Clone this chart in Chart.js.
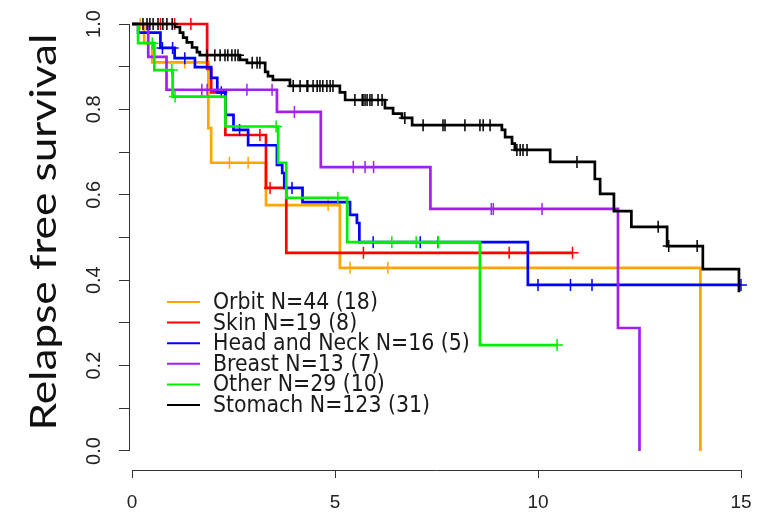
<!DOCTYPE html>
<html><head><meta charset="utf-8">
<script src="https://cdn.jsdelivr.net/npm/chart.js@4.4.1/dist/chart.umd.min.js"></script>
<style>html,body{margin:0;padding:0;background:#fff;}canvas{display:block;}</style>
</head><body>
<canvas id="c" width="768" height="518"></canvas>
<script>
// ---- data ----
const groupNames = ['Orbit', 'Skin', 'Head and Neck', 'Breast', 'Other', 'Stomach'];
const legendLabels = ['Orbit N=44 (18)', 'Skin N=19 (8)', 'Head and Neck N=16 (5)', 'Breast N=13 (7)', 'Other N=29 (10)', 'Stomach N=123 (31)'];
const groupColors = ['#FFA500', '#FF0000', '#0000FF', '#A020F0', '#00EE00', '#000000'];

const xTickValues = [0, 5, 10, 15];
const xTickLabels = ['0', '5', '10', '15'];
const yTickValues = [0, 0.1, 0.2, 0.3, 0.4, 0.5, 0.6, 0.7, 0.8, 0.9, 1.0];
const yTickLabels = ['0.0', '', '0.2', '', '0.4', '', '0.6', '', '0.8', '', '1.0'];
const yTitle = 'Relapse free survival';

const orbitEventTimes = [0.3, 0.5, 1.88, 1.95, 3.3, 5.12, 14.0];
const orbitEventSurv = [0.955, 0.91, 0.756, 0.675, 0.576, 0.429, 0];
const orbitCensorTimes = [0.2, 1.3, 2.4, 2.86, 4.83, 5.37, 6.3];

const skinEventTimes = [1.85, 1.95, 2.3, 3.3, 3.8];
const skinEventSurv = [0.895, 0.84, 0.74, 0.616, 0.464];
const skinCensorTimes = [0.7, 1.05, 1.45, 3.15, 3.4, 5.7, 9.29, 10.85];

const headEventTimes = [0.15, 0.7, 1.05, 1.55, 1.95, 2.1, 2.3, 2.5, 2.86, 3.57, 3.7, 3.75, 4.2, 5.37, 5.54, 5.6, 9.75];
const headEventSurv = [0.98, 0.944, 0.92, 0.899, 0.874, 0.84, 0.787, 0.752, 0.716, 0.67, 0.651, 0.616, 0.583, 0.553, 0.534, 0.489, 0.389];
const headCensorTimes = [0.75, 1.0, 1.3, 2.2, 2.65, 3.94, 5.94, 7.1, 7.54, 10.0, 10.8, 11.33, 15.0];

const breastEventTimes = [0.4, 0.85, 3.57, 4.65, 7.35, 11.97, 12.5];
const breastEventSurv = [0.923, 0.846, 0.794, 0.665, 0.567, 0.288, 0];
const breastCensorTimes = [1.72, 1.85, 2.83, 3.45, 4.0, 5.45, 5.74, 5.95, 8.85, 8.9, 10.1];

const otherEventTimes = [0.15, 0.55, 1.0, 2.3, 3.6, 3.8, 5.3, 8.57];
const otherEventSurv = [0.955, 0.892, 0.83, 0.76, 0.675, 0.593, 0.489, 0.248];
const otherCensorTimes = [0.5, 0.98, 1.06, 3.55, 5.07, 6.4, 7.0, 7.55, 10.47];

const stomachEventTimes = [1.06, 1.18, 1.26, 1.35, 1.48, 1.6, 1.67, 2.66, 2.83, 3.28, 3.35, 3.47, 3.89, 5.12, 5.25, 6.23, 6.43, 6.65, 6.9, 9.11, 9.19, 9.36, 9.43, 10.3, 11.4, 11.53, 11.87, 12.3, 13.18, 14.06, 14.95];
const stomachEventSurv = [0.993, 0.98, 0.968, 0.957, 0.945, 0.934, 0.927, 0.916, 0.909, 0.888, 0.878, 0.869, 0.855, 0.84, 0.822, 0.803, 0.79, 0.78, 0.763, 0.752, 0.735, 0.72, 0.705, 0.677, 0.637, 0.602, 0.562, 0.525, 0.48, 0.426, 0.372];
const stomachCensorTimes = [0.27, 0.37, 0.44, 0.52, 0.64, 0.76, 0.86, 0.99, 1.85, 2.04, 2.17, 2.29, 2.36, 2.46, 2.54, 2.61, 2.96, 3.08, 3.15, 3.97, 4.14, 4.31, 4.33, 4.46, 4.56, 4.63, 4.7, 4.8, 4.88, 4.95, 5.49, 5.67, 5.69, 5.74, 5.79, 5.86, 5.91, 6.06, 6.16, 6.72, 7.17, 7.66, 7.71, 8.2, 8.57, 8.65, 8.82, 9.48, 9.56, 9.63, 9.73, 10.96, 12.96, 13.22, 13.92];

const groups = [
  [orbitEventTimes, orbitEventSurv, orbitCensorTimes],
  [skinEventTimes, skinEventSurv, skinCensorTimes],
  [headEventTimes, headEventSurv, headCensorTimes],
  [breastEventTimes, breastEventSurv, breastCensorTimes],
  [otherEventTimes, otherEventSurv, otherCensorTimes],
  [stomachEventTimes, stomachEventSurv, stomachCensorTimes]
];

function kmPoints(evT, evS, cT) {
  const items = evT.map((t, i) => ({t: t, s: evS[i], e: 1})).concat(cT.map(t => ({t: t, e: 0})));
  items.sort((a, b) => (a.t - b.t) || (b.e - a.e));
  let s = 1;
  const pts = [{x: 0, y: 1, c: false}];
  for (const it of items) {
    if (it.e) { s = it.s; pts.push({x: it.t, y: s, c: false}); }
    else pts.push({x: it.t, y: s, c: true});
  }
  return pts;
}

const datasets = groups.map((g, i) => ({
  label: groupNames[i],
  data: kmPoints(g[0], g[1], g[2]),
  borderColor: groupColors[i],
  backgroundColor: groupColors[i],
  borderWidth: 2.7,
  stepped: 'before',
  fill: false,
  clip: false,
  order: groups.length - 1 - i,
  pointStyle: 'cross',
  pointRadius: ctx => (ctx.raw && ctx.raw.c) ? 6 : 0,
  pointBorderColor: groupColors[i],
  pointBorderWidth: 1.5,
  pointHoverRadius: 0
}));

const decor = {
  id: 'decor',
  afterDraw(chart) {
    const ctx = chart.ctx, xs = chart.scales.x, ys = chart.scales.y, ca = chart.chartArea;
    ctx.save();
    // axis lines (R style, spanning only the data range)
    ctx.strokeStyle = '#333'; ctx.lineWidth = 1;
    ctx.beginPath();
    ctx.moveTo(ca.left + 0.5, ys.getPixelForValue(0));
    ctx.lineTo(ca.left + 0.5, ys.getPixelForValue(1));
    ctx.moveTo(xs.getPixelForValue(0), ca.bottom + 0.5);
    ctx.lineTo(xs.getPixelForValue(15), ca.bottom + 0.5);
    ctx.stroke();
    // y title
    ctx.fillStyle = '#111';
    ctx.font = '36px Lato, "Open Sans", sans-serif';
    ctx.textAlign = 'center'; ctx.textBaseline = 'middle';
    const tw = ctx.measureText(yTitle).width;
    ctx.translate(44, 232);
    ctx.rotate(-Math.PI / 2);
    ctx.scale(397 / tw, 1);
    ctx.fillText(yTitle, 0, 0);
    ctx.restore();
    // legend
    ctx.save();
    ctx.font = '22.8px "DejaVu Sans Condensed", "DejaVu Sans", sans-serif';
    const lw = ctx.measureText(legendLabels[5]).width;
    const sx = 217 / lw;
    for (let i = 0; i < legendLabels.length; i++) {
      const y = 302 + i * 20.6;
      ctx.strokeStyle = groupColors[i]; ctx.lineWidth = 2;
      ctx.beginPath(); ctx.moveTo(167, y); ctx.lineTo(200, y); ctx.stroke();
      ctx.save();
      ctx.fillStyle = '#1a1a1a'; ctx.textAlign = 'left'; ctx.textBaseline = 'middle';
      ctx.translate(213, y + 1);
      ctx.scale(sx, 1);
      ctx.fillText(legendLabels[i], 0, 0);
      ctx.restore();
    }
    ctx.restore();
  }
};

new Chart(document.getElementById('c'), {
  type: 'line',
  data: {datasets: datasets},
  options: {
    responsive: false, animation: false, devicePixelRatio: 1, events: [],
    layout: {padding: {left: 0, right: 27, top: 24, bottom: 0}},
    plugins: {legend: {display: false}, tooltip: {enabled: false}, title: {display: false}},
    scales: {
      x: {
        type: 'linear', min: -0.074, max: 15,
        afterBuildTicks: s => { s.ticks = xTickValues.map(v => ({value: v})); },
        afterFit: s => { s.height = 48; },
        border: {display: false},
        grid: {drawOnChartArea: false, drawTicks: true, tickLength: 8, color: '#333', lineWidth: 1},
        ticks: {autoSkip: false, maxRotation: 0, padding: 13, color: '#222',
          font: {family: '"Liberation Sans", Arial, sans-serif', size: 19},
          callback: (v, i) => xTickLabels[i]}
      },
      y: {
        type: 'linear', min: -0.0445, max: 1,
        afterBuildTicks: s => { s.ticks = yTickValues.map(v => ({value: v})); },
        afterFit: s => { s.width = 129; },
        border: {display: false},
        grid: {drawOnChartArea: false, drawTicks: true, tickLength: 10, color: '#333', lineWidth: 1},
        ticks: {autoSkip: false, minRotation: 90, maxRotation: 90, crossAlign: 'center', padding: 11, color: '#222',
          font: {family: '"Liberation Sans", Arial, sans-serif', size: 20},
          callback: (v, i) => yTickLabels[i]}
      }
    }
  },
  plugins: [decor]
});
</script>
</body></html>
